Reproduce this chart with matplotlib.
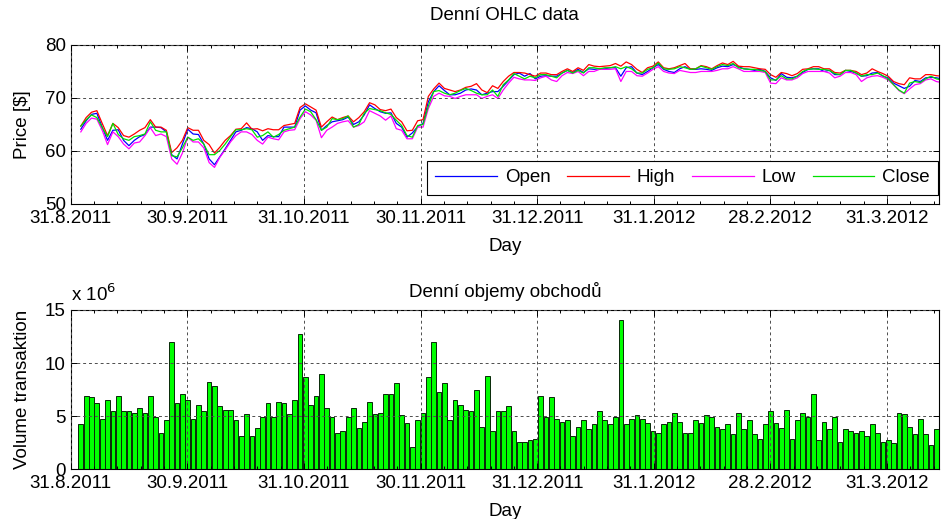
import matplotlib.pyplot as plt
import numpy as np

plt.rcParams['font.family'] = ['Liberation Sans', 'DejaVu Sans']

# Denni data (obchodni dny), ceny v $
open_p = [64.1, 65.7, 66.9, 67.1, 64.5, 62.0, 63.9, 64.0, 62.0, 61.0,
          62.0, 62.7, 63.1, 64.5, 64.5, 64.4, 63.6, 59.3, 58.5, 61.3,
          64.1, 63.2, 63.1, 61.3, 58.5, 57.4, 58.9, 60.4, 62.0, 63.6,
          63.9, 64.4, 64.2, 63.6, 62.0, 62.9, 62.7, 62.7, 64.5, 64.5,
          64.5, 67.7, 68.5, 67.7, 67.2, 63.9, 64.8, 65.5, 65.7, 65.9,
          66.4, 65.0, 65.5, 66.8, 68.7, 68.0, 67.4, 67.1, 67.2, 65.2,
          64.5, 62.6, 63.4, 64.6, 65.2, 69.3, 71.2, 72.3, 71.4, 70.6,
          70.6, 70.9, 71.5, 71.7, 71.5, 70.6, 70.9, 71.2, 71.2, 72.2,
          73.3, 74.4, 74.7, 74.1, 74.6, 73.6, 74.1, 74.2, 74.1, 74.1,
          74.7, 75.2, 74.8, 75.4, 74.8, 75.5, 75.4, 75.5, 75.5, 75.7,
          75.7, 74.1, 75.7, 75.9, 74.7, 74.4, 75.0, 75.7, 76.3, 75.4,
          75.0, 74.8, 75.5, 75.9, 75.4, 75.4, 75.5, 75.4, 75.2, 75.7,
          76.0, 75.9, 76.3, 75.9, 75.5, 75.4, 75.2, 75.4, 75.0, 73.8,
          73.3, 74.6, 73.9, 73.8, 74.1, 74.8, 75.4, 75.5, 75.5, 75.0,
          75.2, 74.4, 74.4, 75.2, 75.0, 74.7, 74.1, 74.2, 74.7, 74.8,
          74.1, 73.8, 72.8, 72.3, 71.8, 72.2, 73.3, 73.1, 73.8, 73.9,
          73.8, 73.6]
high_p = [64.7, 66.3, 67.3, 67.6, 65.2, 62.9, 65.2, 64.4, 62.9, 62.6,
          63.2, 63.9, 64.4, 65.9, 64.5, 64.5, 63.9, 59.7, 60.6, 62.0,
          64.4, 63.9, 63.9, 62.0, 61.2, 59.6, 60.7, 62.0, 62.9, 64.1,
          64.2, 65.3, 64.1, 64.2, 63.8, 64.2, 64.0, 64.0, 64.8, 65.0,
          65.2, 68.2, 68.9, 68.3, 67.7, 64.5, 65.5, 66.4, 65.9, 66.3,
          66.6, 65.5, 66.3, 67.4, 69.1, 68.7, 67.8, 67.6, 67.9, 66.3,
          65.5, 63.8, 63.9, 65.7, 65.9, 70.3, 71.7, 72.8, 71.8, 71.5,
          71.2, 71.5, 72.0, 72.2, 72.7, 71.5, 71.0, 72.3, 71.8, 73.1,
          74.1, 74.8, 74.8, 74.7, 74.4, 74.1, 74.7, 74.7, 74.4, 74.4,
          75.0, 75.5, 75.0, 75.7, 75.2, 76.3, 76.0, 75.9, 76.0, 76.1,
          76.5, 76.0, 76.8, 76.3, 75.4, 74.8, 75.7, 76.0, 76.8, 75.7,
          75.5, 75.7, 76.1, 76.5, 75.5, 75.5, 76.1, 75.9, 75.5, 76.1,
          76.6, 76.3, 76.9, 76.0, 75.9, 75.9, 75.7, 75.5, 75.4, 74.4,
          73.9, 74.8, 74.6, 74.2, 74.6, 75.4, 75.5, 75.9, 75.9, 75.5,
          75.5, 74.8, 74.7, 75.2, 75.2, 75.0, 74.4, 74.7, 75.5, 75.0,
          74.6, 74.1, 73.1, 72.7, 72.5, 73.8, 73.6, 73.6, 74.4, 74.4,
          74.2, 74.1]
low_p = [63.6, 65.2, 66.2, 66.0, 63.9, 61.2, 63.6, 62.7, 61.3, 60.4,
         61.5, 61.7, 62.9, 64.4, 62.9, 63.2, 62.7, 58.5, 57.5, 59.6,
         62.6, 61.7, 61.7, 60.6, 57.8, 56.9, 58.8, 60.2, 61.7, 62.9,
         63.6, 63.6, 63.1, 62.0, 61.3, 62.6, 62.3, 62.1, 63.6, 63.9,
         64.0, 66.1, 67.4, 66.8, 65.8, 62.5, 63.9, 64.5, 65.2, 65.5,
         65.7, 64.5, 64.8, 65.5, 67.6, 67.1, 66.6, 65.8, 66.6, 64.2,
         63.9, 62.3, 62.3, 64.5, 64.5, 68.0, 70.3, 70.9, 70.4, 70.3,
         69.9, 70.3, 70.6, 70.6, 70.6, 69.9, 70.3, 70.6, 69.9, 71.5,
         72.8, 73.9, 73.6, 73.4, 73.4, 73.3, 73.8, 74.1, 73.4, 73.1,
         74.2, 74.8, 74.6, 75.0, 74.2, 75.0, 75.0, 75.4, 75.4, 75.4,
         75.5, 73.1, 75.0, 75.0, 74.2, 74.1, 74.7, 75.4, 75.9, 75.0,
         74.7, 74.6, 75.2, 75.0, 74.8, 74.8, 75.0, 75.0, 75.0, 75.2,
         75.5, 75.5, 75.9, 75.5, 75.0, 75.0, 75.0, 75.0, 74.8, 72.8,
         72.7, 73.8, 73.4, 73.4, 73.8, 74.6, 75.0, 75.0, 75.0, 75.0,
         74.7, 73.8, 74.1, 74.8, 74.8, 74.4, 73.1, 73.8, 74.1, 74.2,
         73.9, 73.4, 72.5, 71.4, 70.8, 71.7, 72.5, 72.7, 73.4, 73.6,
         73.1, 72.9]
close_p = [64.7, 65.9, 66.8, 66.3, 64.4, 62.7, 65.2, 63.1, 62.3, 62.0,
           62.7, 62.9, 63.2, 65.5, 63.9, 63.6, 63.6, 59.1, 58.9, 60.6,
           62.6, 62.0, 62.3, 61.3, 59.3, 59.3, 60.1, 61.3, 62.7, 64.0,
           64.0, 64.2, 64.0, 62.6, 62.9, 63.6, 62.6, 63.1, 63.9, 64.2,
           64.5, 66.4, 67.9, 67.4, 65.9, 63.9, 64.5, 66.1, 65.9, 66.1,
           66.6, 64.5, 65.0, 67.1, 68.0, 67.8, 67.6, 67.2, 66.9, 65.8,
           64.8, 62.9, 62.6, 64.8, 65.0, 68.5, 71.2, 71.4, 70.9, 70.6,
           70.9, 71.4, 71.8, 71.4, 70.9, 70.6, 70.6, 71.5, 70.3, 72.5,
           73.4, 74.6, 74.1, 73.6, 74.1, 73.8, 74.4, 74.4, 74.1, 73.8,
           74.7, 75.2, 74.7, 75.2, 74.7, 75.7, 75.7, 75.5, 75.7, 75.7,
           75.9, 75.5, 75.9, 75.5, 74.7, 74.7, 75.4, 75.7, 76.6, 75.5,
           75.4, 75.5, 75.9, 75.7, 75.4, 75.5, 76.0, 75.7, 75.4, 75.9,
           76.3, 76.1, 76.5, 75.7, 75.5, 75.4, 75.4, 75.2, 75.0, 73.4,
           73.4, 74.2, 73.6, 73.6, 74.1, 75.0, 75.4, 75.5, 75.4, 75.4,
           75.2, 74.6, 74.4, 75.2, 75.2, 74.7, 74.1, 74.4, 74.4, 74.7,
           74.2, 73.6, 72.5, 71.5, 70.9, 72.8, 73.1, 72.9, 73.6, 74.1,
           73.6, 73.4]

# objemy obchodu v milionech kusu
volume = [4.28, 6.9, 6.78, 6.2, 4.75, 6.5, 5.5, 6.9, 5.5, 5.5,
          5.28, 5.78, 5.3, 6.9, 4.9, 3.44, 4.6, 12.0, 6.2, 7.1,
          6.5, 4.75, 6.0, 5.5, 8.25, 7.8, 5.9, 5.6, 5.6, 4.6,
          3.15, 5.2, 3.15, 3.9, 4.9, 6.2, 4.9, 6.35, 6.2, 5.2,
          6.5, 12.75, 8.7, 6.0, 6.9, 9.0, 5.8, 4.9, 3.44, 3.6,
          4.9, 5.8, 3.9, 4.47, 6.35, 5.2, 5.28, 7.1, 7.1, 8.1,
          5.06, 4.3, 2.1, 4.6, 5.3, 8.7, 12.0, 7.25, 8.1, 4.6,
          6.5, 6.06, 5.6, 5.5, 7.5, 4.0, 8.8, 3.6, 5.5, 5.5,
          5.9, 3.6, 2.56, 2.56, 2.75, 2.87, 6.9, 4.9, 6.78, 4.75,
          4.47, 4.6, 3.15, 4.0, 4.6, 3.75, 4.2, 5.5, 4.6, 4.2,
          4.9, 14.1, 4.2, 4.75, 5.06, 4.75, 4.3, 3.6, 3.44, 4.2,
          4.47, 5.3, 4.47, 3.44, 3.44, 4.6, 4.3, 5.06, 4.9, 4.0,
          3.75, 4.2, 3.3, 5.3, 3.75, 4.6, 3.3, 2.87, 4.2, 5.5,
          4.3, 3.9, 5.6, 2.87, 4.6, 5.3, 4.9, 7.1, 2.75, 4.47,
          3.75, 4.9, 2.56, 3.75, 3.6, 3.44, 3.6, 3.15, 4.2, 3.44,
          2.56, 2.75, 2.44, 5.3, 5.2, 4.0, 3.3, 4.75, 3.3, 2.3,
          3.75, 4.3]

tick_labels = ['31.8.2011', '30.9.2011', '31.10.2011', '30.11.2011',
               '31.12.2011', '31.1.2012', '28.2.2012', '31.3.2012']

days = np.arange(len(close_p))
x0, step = -1.89, 21.81
xlim = (x0, 160.5)
major = x0 + step * np.arange(len(tick_labels))
minor = x0 + step / 5 * np.arange(5 * len(tick_labels) + 3)
minor = minor[minor <= xlim[1]]

fs = 13.5
grid_kw = dict(color='0.3', linestyle=(0, (3, 3)), linewidth=0.7)

fig = plt.figure(figsize=(9.44, 5.19), dpi=100)
ax1 = fig.add_axes([0.0749, 0.607, 0.9198, 0.3064])
ax2 = fig.add_axes([0.0749, 0.0963, 0.9198, 0.3064])

# OHLC
ax1.plot(days, open_p, color='blue', lw=0.9, label='Open')
ax1.plot(days, high_p, color='red', lw=0.9, label='High')
ax1.plot(days, low_p, color='magenta', lw=0.9, label='Low')
ax1.plot(days, close_p, color='#00e000', lw=0.9, label='Close')
ax1.set_ylim(50, 80)
ax1.set_yticks([50, 60, 70, 80])
ax1.set_title('Denní OHLC data', fontsize=fs, pad=18)
ax1.set_ylabel('Price [$]', fontsize=fs, labelpad=10)
ax1.set_xlabel('Day', fontsize=fs, labelpad=8)
leg = ax1.legend(ncol=4, loc='lower right', bbox_to_anchor=(0.9988, 0.057),
                 borderaxespad=0, fontsize=fs, handlelength=3.3,
                 handletextpad=0.4, columnspacing=0.9, fancybox=False,
                 framealpha=1, edgecolor='black', borderpad=0.45)
leg.get_frame().set_linewidth(0.8)

# objemy
ax2.bar(days, volume, width=0.88, color='#00ff00', edgecolor='#082808', linewidth=0.7)
ax2.set_ylim(0, 15)
ax2.set_yticks([0, 5, 10, 15])
ax2.set_title('Denní objemy obchodů', fontsize=fs, pad=9)
ax2.set_ylabel('Volume transaktion', fontsize=fs, labelpad=10)
ax2.set_xlabel('Day', fontsize=fs, labelpad=8)
ax2.text(0, 1.03, r'x 10$^6$', transform=ax2.transAxes, fontsize=fs, va='bottom', ha='left')

for ax in (ax1, ax2):
    ax.set_xticks(major)
    ax.set_xticklabels(tick_labels)
    ax.set_xticks(minor, minor=True)
    ax.set_xlim(*xlim)
    ax.tick_params(which='both', direction='in', top=True, right=True, labelsize=fs, width=0.7)
    ax.tick_params(which='major', length=4)
    ax.tick_params(axis='x', which='major', pad=4)
    ax.tick_params(which='minor', length=2.5)
    ax.tick_params(axis='y', which='minor', left=False, right=False)
    ax.grid(True, which='major', **grid_kw)
    ax.set_axisbelow(False)
    for s in ax.spines.values():
        s.set_linewidth(0.8)

plt.savefig('out.png', dpi=100)
